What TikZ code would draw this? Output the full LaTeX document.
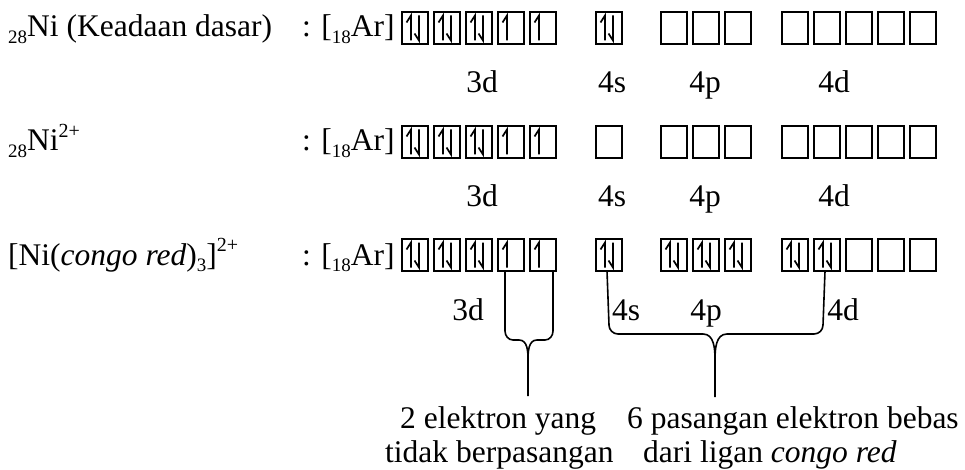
\documentclass[tikz,border=0pt]{standalone}
\usepackage{fontspec}
\setmainfont{Liberation Serif}
\newcommand{\lsub}[1]{\raisebox{-0.2em}{\fontsize{19}{19}\selectfont #1}}
\newcommand{\lsup}[1]{\raisebox{0.42em}{\fontsize{20}{20}\selectfont #1}}
\begin{document}
\begin{tikzpicture}[x=1pt, y=-1pt,
  txt/.style={inner sep=0pt, anchor=base west, font=\fontsize{31.5}{38}\selectfont},
  lbl/.style={inner sep=0pt, anchor=base, font=\fontsize{31.5}{38}\selectfont},
  empty/.style={draw, line width=1.6pt, minimum width=26pt, minimum height=32pt, inner sep=0pt, outer sep=0pt},
  up/.style={empty, path picture={
    \draw[spin] ([xshift=-4pt,yshift=-12.5pt]path picture bounding box.center) -- ++(0,-25) -- ++(-4.5,7);}},
  pair/.style={empty, path picture={
    \draw[spin] ([xshift=-4pt,yshift=-12.5pt]path picture bounding box.center) -- ++(0,-25) -- ++(-4.5,7);
    \draw[spin] ([xshift=4pt,yshift=12.5pt]path picture bounding box.center) -- ++(0,25) -- ++(-4.5,-7);}},
  spin/.style={line width=1.7pt, line join=miter},
  bracket/.style={line width=1.6pt}
]
\useasboundingbox (0,0) rectangle (965,470);

% species names and core configuration
\node[txt] (n1) at (8,37) {\lsub{28}Ni (Keadaan dasar)};
\node[txt] (c1) at (302,37) {: [\lsub{18}Ar]};
\node[txt] (n2) at (8,151) {\lsub{28}Ni\lsup{2+}};
\node[txt] (c2) at (302,151) {: [\lsub{18}Ar]};
\node[txt] (n3) at (8,265) {[Ni(\textit{congo red})\lsub{3}]\lsup{2+}};
\node[txt] (c3) at (302,265) {: [\lsub{18}Ar]};

% row 1: ground state Ni
\foreach \s [count=\i] in {pair,pair,pair,up,up}
  \node[\s] (a3d\i) at ({415+32*(\i-1)},28) {};
\node[pair] (a4s1) at (609,28) {};
\foreach \i in {1,2,3}
  \node[empty] (a4p\i) at ({674+32*(\i-1)},28) {};
\foreach \i in {1,...,5}
  \node[empty] (a4d\i) at ({795+32*(\i-1)},28) {};
\node[lbl] (la3d) at (482,93) {3d};
\node[lbl] (la4s) at (612,93) {4s};
\node[lbl] (la4p) at (705,93) {4p};
\node[lbl] (la4d) at (834,93) {4d};

% row 2: Ni2+
\foreach \s [count=\i] in {pair,pair,pair,up,up}
  \node[\s] (b3d\i) at ({415+32*(\i-1)},142) {};
\node[empty] (b4s1) at (609,142) {};
\foreach \i in {1,2,3}
  \node[empty] (b4p\i) at ({674+32*(\i-1)},142) {};
\foreach \i in {1,...,5}
  \node[empty] (b4d\i) at ({795+32*(\i-1)},142) {};
\node[lbl] (lb3d) at (482,207) {3d};
\node[lbl] (lb4s) at (612,207) {4s};
\node[lbl] (lb4p) at (705,207) {4p};
\node[lbl] (lb4d) at (834,207) {4d};

% row 3: complex ion
\foreach \s [count=\i] in {pair,pair,pair,up,up}
  \node[\s] (c3d\i) at ({415+32*(\i-1)},255) {};
\node[pair] (c4s1) at (609,255) {};
\foreach \i in {1,2,3}
  \node[pair] (c4p\i) at ({674+32*(\i-1)},255) {};
\foreach \s [count=\i] in {pair,pair,empty,empty,empty}
  \node[\s] (c4d\i) at ({795+32*(\i-1)},255) {};
\node[lbl] (lc3d) at (468,320) {3d};
\node[lbl] (lc4s) at (626,320) {4s};
\node[lbl] (lc4p) at (706,320) {4p};
\node[lbl] (lc4d) at (843,320) {4d};

% brace under the two unpaired 3d electrons
\coordinate (tipL) at (528,396);
\draw[bracket] ([xshift=-6pt]c3d4.south) -- (505,331) to[out=-90,in=180] (513,340)
  -- (519,340) to[out=0,in=90] (528,360) -- (tipL);
\draw[bracket] ([xshift=10pt]c3d5.south) -- (553,331) to[out=-90,in=0] (545,340)
  -- (537,340) to[out=180,in=90] (528,360);

% brace under the six ligand pairs
\coordinate (tipR) at (715,397);
\draw[bracket] ([xshift=-2pt]c4s1.south) -- (609,325) to[out=-90,in=180] (618,334)
  -- (703,334) to[out=0,in=90] (715,360) -- (tipR);
\draw[bracket] ([xshift=-2pt]c4d2.south) -- (823,325) to[out=-90,in=0] (814,334)
  -- (727,334) to[out=180,in=90] (715,360);

% captions
\node[txt] (t1) at (400,428) {2 elektron yang};
\node[txt] (t2) at (385,462) {tidak berpasangan};
\node[txt] (t3) at (627,428) {6 pasangan elektron bebas};
\node[txt] (t4) at (643,462) {dari ligan \textit{congo red}};
\end{tikzpicture}
\end{document}
